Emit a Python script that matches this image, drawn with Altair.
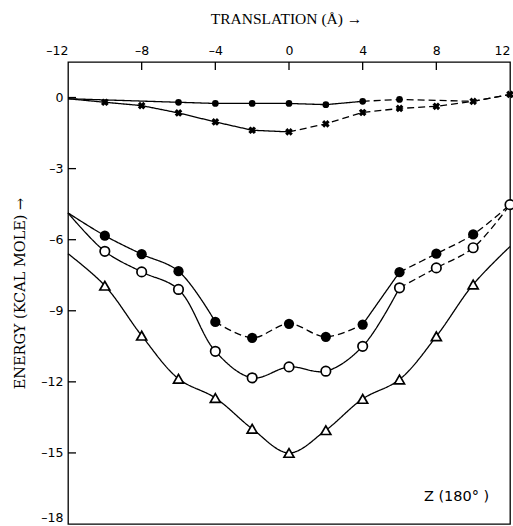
import altair as alt
import pandas as pd

# ---- data ----
X = [-12, -10, -8, -6, -4, -2, 0, 2, 4, 6, 8, 10, 12]

TOP_DOT_X = [-12, -6, -4, -2, 0, 2, 4, 6, 10, 12]
TOP_DOT_Y = [-0.05, -0.2, -0.25, -0.25, -0.25, -0.3, -0.16, -0.08, -0.16, 0.13]

CROSS_Y = [-0.05, -0.2, -0.34, -0.65, -1.03, -1.38, -1.45, -1.11, -0.63, -0.46, -0.37, -0.16, 0.13]
FILLED_Y = [-4.87, -5.83, -6.61, -7.33, -9.47, -10.14, -9.55, -10.10, -9.58, -7.37, -6.59, -5.78, -4.52]
OPEN_Y = [-4.87, -6.49, -7.36, -8.10, -10.71, -11.83, -11.37, -11.55, -10.50, -8.03, -7.19, -6.34, -4.52]
TRI_Y = [-6.59, -7.94, -10.05, -11.87, -12.68, -13.98, -15.0, -14.04, -12.72, -11.90, -10.08, -7.89, -6.29]

X_TICK_VALUES = [-12, -8, -4, 0, 4, 8, 12]
X_INNER_TICKS = [-8, -4, 0, 4, 8]
Y_TICK_VALUES = [0, -3, -6, -9, -12, -15, -18]
Y_INNER_TICKS = [0, -3, -6, -9, -12, -15]

NOTE_TEXT = ["Z  (180° )"]
NOTE_X = [9.1]
NOTE_Y = [-16.85]

X_TITLE = "TRANSLATION (Å) →"
Y_TITLE = "ENERGY (KCAL MOLE) →"

# ---- series definitions (which points get markers, which pieces are dashed) ----
series = {
    "topdot": dict(xs=TOP_DOT_X, ys=TOP_DOT_Y, marks=range(1, 8),
                   segs=[(0, 6, "solid"), (6, 9, "dash")], smooth=False),
    "cross": dict(xs=X, ys=CROSS_Y, marks=range(1, 13),
                  segs=[(0, 6, "solid"), (6, 12, "dash")], smooth=False),
    "filled": dict(xs=X, ys=FILLED_Y, marks=range(1, 12),
                   segs=[(0, 4, "solid"), (4, 8, "dash"), (8, 9, "solid"), (9, 12, "dash")], smooth=True),
    "open": dict(xs=X, ys=OPEN_Y, marks=range(1, 13),
                 segs=[(0, 9, "solid"), (9, 12, "dash")], smooth=True),
    "tri": dict(xs=X, ys=TRI_Y, marks=range(1, 12),
                segs=[(0, 12, "solid")], smooth=True),
}

line_rows, point_rows = [], []
for name, s in series.items():
    for k, (a, b, style) in enumerate(s["segs"]):
        for i in range(a, b + 1):
            line_rows.append(dict(series=name, seg=f"{name}{k}", style=style,
                                  smooth=s["smooth"], x=s["xs"][i], y=s["ys"][i]))
    for i in s["marks"]:
        point_rows.append(dict(series=name, x=s["xs"][i], y=s["ys"][i]))

lines = pd.DataFrame(line_rows)
points = pd.DataFrame(point_rows)

minus_expr = "datum.value < 0 ? '–' + abs(datum.value) : '' + datum.value"

x_scale = alt.Scale(domain=[-12, 12], nice=False, zero=False)
y_scale = alt.Scale(domain=[-18, 1.5], nice=False, zero=False)

x_axis = alt.Axis(
    orient="top", values=X_TICK_VALUES, ticks=False, domain=False, grid=False,
    labelExpr=minus_expr, labelFlush=False, labelPadding=5,
    labelFont="DejaVu Sans", labelFontSize=12.5, labelColor="black",
    labelAlign={"condition": [{"test": "datum.value == -12", "value": "right"},
                              {"test": "datum.value == 12", "value": "right"}],
                "value": "center"},
    title=X_TITLE, titleFont="Liberation Serif", titleFontSize=15.5, titleFontWeight="normal",
    titleColor="black", titleX=218, titleY=-44, titleAlign="center", titleBaseline="middle",
)
y_axis = alt.Axis(
    values=Y_TICK_VALUES, ticks=False, domain=False, grid=False,
    labelExpr=minus_expr, labelPadding=5,
    labelFont="DejaVu Sans", labelFontSize=12.5, labelColor="black",
    labelBaseline={"condition": {"test": "datum.value == -18", "value": "bottom"}, "value": "middle"},
    title=Y_TITLE, titleFont="DejaVu Serif", titleFontSize=14.5, titleFontWeight="normal",
    titleColor="black", titleX=-48, titleY=231, titleAngle=270,
    titleAlign="center", titleBaseline="middle",
)

X_ENC = alt.X("x:Q", scale=x_scale, axis=x_axis)
Y_ENC = alt.Y("y:Q", scale=y_scale, axis=y_axis)

dash = alt.StrokeDash("style:N", scale=alt.Scale(domain=["solid", "dash"], range=[[1, 0], [7, 4]]),
                      legend=None)

top_lines = alt.Chart(lines).transform_filter("!datum.smooth").mark_line(
    interpolate="linear", color="black", strokeWidth=1.3
).encode(x=X_ENC, y=Y_ENC, detail="seg:N", strokeDash=dash, order="x:Q")

low_lines = alt.Chart(lines).transform_filter("datum.smooth").mark_line(
    interpolate="catmull-rom", color="black", strokeWidth=1.3
).encode(x=X_ENC, y=Y_ENC, detail="seg:N", strokeDash=dash, order="x:Q")


def pts(name, **mark):
    return alt.Chart(points).transform_filter(f"datum.series == '{name}'").mark_point(
        opacity=1, **mark
    ).encode(x=X_ENC, y=Y_ENC)


p_topdot = pts("topdot", shape="circle", filled=True, color="black", size=45)
p_cross = pts("cross", shape="cross", angle=45, filled=True, color="black", size=60)
p_filled = pts("filled", shape="circle", filled=True, color="black", size=105)
p_open = pts("open", shape="circle", filled=True, fill="white", stroke="black", strokeWidth=1.7, size=90)
p_tri = pts("tri", shape="triangle-up", filled=True, fill="white", stroke="black", strokeWidth=1.7, size=100)

x_ticks = alt.Chart(pd.DataFrame({"x": X_INNER_TICKS})).mark_rule(color="black", strokeWidth=1.3).encode(
    x=X_ENC, y=alt.value(0), y2=alt.value(8)
)
y_ticks = alt.Chart(pd.DataFrame({"y": Y_INNER_TICKS})).mark_rule(color="black", strokeWidth=1.3).encode(
    y=Y_ENC, x=alt.value(0), x2=alt.value(8)
)

note = alt.Chart(pd.DataFrame({"x": NOTE_X, "y": NOTE_Y, "t": NOTE_TEXT})).mark_text(
    font="DejaVu Sans", fontSize=14.5, color="black", align="center", baseline="middle"
).encode(x=X_ENC, y=Y_ENC, text="t:N")

chart = alt.layer(
    top_lines, low_lines, x_ticks, y_ticks,
    p_topdot, p_cross, p_filled, p_open, p_tri, note,
).properties(
    width=442, height=462,
    padding={"left": 68, "top": 62, "right": 3, "bottom": 2},
    autosize=alt.AutoSizeParams(type="none"),
    background="white",
).configure_view(stroke="black", strokeWidth=1.3)

chart.save("out.html", embed_options={"renderer": "svg", "actions": False})
